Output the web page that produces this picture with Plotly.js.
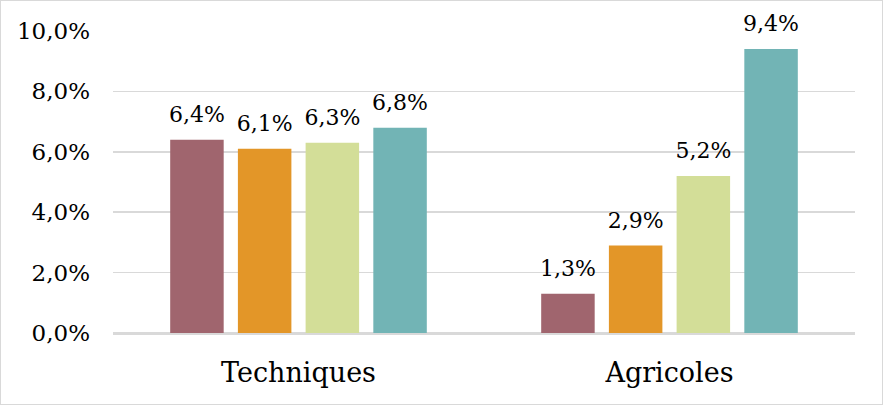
<!DOCTYPE html>
<html><head><meta charset="utf-8">
<script src="https://cdn.plot.ly/plotly-3.0.1.min.js"></script>
<style>
html,body{margin:0;padding:0;background:#fff;}
#wrap{width:881px;height:403px;border:1px solid #d9d9d9;}
#chart{width:881px;height:403px;}
</style></head>
<body><div id="wrap"><div id="chart"></div></div>
<script>
const categories = ["Techniques", "Agricoles"];
const series1 = [0.064, 0.013];
const series2 = [0.061, 0.029];
const series3 = [0.063, 0.052];
const series4 = [0.068, 0.094];
const seriesNames = ["Série 1", "Série 2", "Série 3", "Série 4"];
const colors = ["#A0656E", "#E39628", "#D3DE98", "#72B4B5"];
const allSeries = [series1, series2, series3, series4];

const font = "DejaVu Serif, serif";
const bars = allSeries.map((s, i) => ({
  type: "bar",
  x: categories,
  y: s,
  name: seriesNames[i],
  offsetgroup: String(i),
  marker: {color: colors[i]},
  hoverinfo: "none"
}));
const labels = allSeries.map((s, i) => ({
  type: "scatter",
  mode: "markers+text",
  x: categories,
  y: s,
  name: seriesNames[i] + " labels",
  offsetgroup: String(i),
  marker: {size: 18, opacity: 0},
  texttemplate: "%{y:.1%}",
  textposition: "top center",
  cliponaxis: false,
  textfont: {family: font, size: 22, color: "#000"},
  showlegend: false,
  hoverinfo: "none"
}));

const layout = {
  width: 881, height: 403,
  margin: {l: 112, r: 27, t: 30, b: 71},
  paper_bgcolor: "#fff", plot_bgcolor: "#fff",
  separators: ", ",
  showlegend: false,
  barmode: "group",
  scattermode: "group",
  bargap: 0.27,
  scattergap: 0.27,
  bargroupgap: 0.21,
  font: {family: font, color: "#000"},
  xaxis: {
    showgrid: false, showline: false, zeroline: false,
    ticks: "", tickfont: {family: font, size: 27, color: "#000"},
    ticklabelstandoff: 21
  },
  yaxis: {
    range: [0, 0.1], tickvals: [0, 0.02, 0.04, 0.06, 0.08, 0.1],
    tickformat: ".1%",
    showgrid: true, gridcolor: "#d9d9d9", gridwidth: 1.5,
    zeroline: true, zerolinecolor: "#d9d9d9", zerolinewidth: 3,
    showline: false, ticks: "",
    tickfont: {family: font, size: 23, color: "#000"},
    ticklabelstandoff: 22
  }
};
Plotly.newPlot("chart", bars.concat(labels), layout, {displayModeBar: false, staticPlot: true});
</script></body></html>
